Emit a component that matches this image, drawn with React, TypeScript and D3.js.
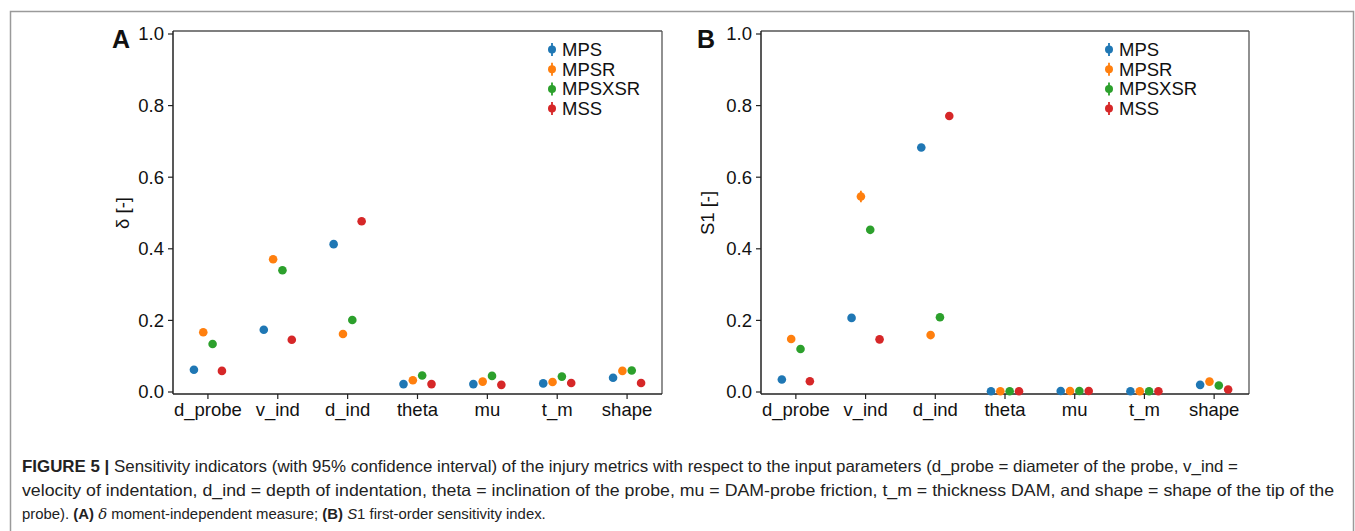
import React from "react";
import * as d3 from "d3";

const categories = ["d_probe", "v_ind", "d_ind", "theta", "mu", "t_m", "shape"];
const seriesNames = ["MPS", "MPSR", "MPSXSR", "MSS"];
const seriesColors = ["#1f77b4", "#ff7f0e", "#2ca02c", "#d62728"];

// Panel A: delta moment-independent measure
const deltaMPS = [0.062, 0.174, 0.413, 0.022, 0.022, 0.024, 0.040];
const deltaMPSR = [0.167, 0.371, 0.162, 0.033, 0.029, 0.028, 0.059];
const deltaMPSXSR = [0.134, 0.340, 0.201, 0.046, 0.045, 0.043, 0.060];
const deltaMSS = [0.059, 0.146, 0.477, 0.022, 0.020, 0.025, 0.025];
const deltaCI = [0.003, 0.004, 0.004, 0.002, 0.002, 0.002, 0.003];

// Panel B: S1 first-order sensitivity index
const s1MPS = [0.035, 0.207, 0.683, 0.002, 0.003, 0.002, 0.020];
const s1MPSR = [0.148, 0.546, 0.159, 0.002, 0.003, 0.002, 0.029];
const s1MPSXSR = [0.120, 0.453, 0.209, 0.002, 0.003, 0.002, 0.018];
const s1MSS = [0.030, 0.147, 0.771, 0.002, 0.003, 0.002, 0.007];
const s1CI_MPSR = [0.003, 0.016, 0.003, 0.002, 0.002, 0.002, 0.003];
const s1CI = [0.003, 0.003, 0.003, 0.002, 0.002, 0.002, 0.003];

const yTicks = [0, 0.2, 0.4, 0.6, 0.8, 1.0];

const FONT = "'Liberation Sans', Arial, Helvetica, sans-serif";

type PanelProps = {
  left: number;
  right: number;
  letter: string;
  letterX: number;
  yTitle: React.ReactNode;
  yTitleX: number;
  values: number[][];
  cis: number[][];
  legendX: number;
};

function Panel({ left, right, letter, letterX, yTitle, yTitleX, values, cis, legendX }: PanelProps) {
  const top = 31;
  const bottom = 394;
  const y = d3.scaleLinear().domain([0, 1]).range([392, 34]);
  const x = d3.scaleBand<string>().domain(categories).range([left, right]).padding(0);
  const dodge = d3.scalePoint<string>().domain(seriesNames).range([-14, 14]);
  const fmt = d3.format(".1f");
  const cx = (c: string) => (x(c) as number) + x.bandwidth() / 2;

  return (
    <g>
      {/* frame */}
      <line x1={left} x2={right} y1={top} y2={top} stroke="#555" strokeWidth={1.3} />
      <line x1={right} x2={right} y1={top} y2={bottom} stroke="#555" strokeWidth={1.3} />
      <line x1={left} x2={left} y1={top} y2={bottom} stroke="#222" strokeWidth={1.5} />
      <line x1={left} x2={right} y1={bottom} y2={bottom} stroke="#222" strokeWidth={1.5} />

      {/* y ticks */}
      {yTicks.map((t) => (
        <g key={t}>
          <line x1={left - 5} x2={left} y1={y(t)} y2={y(t)} stroke="#222" strokeWidth={1.2} />
          <text x={left - 9} y={y(t)} dy="0.35em" textAnchor="end" fontSize={18.5} fontFamily={FONT} fill="#111">
            {fmt(t)}
          </text>
        </g>
      ))}

      {/* x ticks */}
      {categories.map((c) => (
        <g key={c}>
          <line x1={cx(c)} x2={cx(c)} y1={bottom} y2={bottom + 5} stroke="#222" strokeWidth={1.2} />
          <text x={cx(c)} y={bottom + 22} textAnchor="middle" fontSize={18.5} fontFamily={FONT} fill="#111">
            {c}
          </text>
        </g>
      ))}

      {/* y title */}
      <text
        transform={`translate(${yTitleX},${(y(0) + y(1)) / 2}) rotate(-90)`}
        textAnchor="middle"
        dy="0.35em"
        fontSize={18.5}
        fontFamily={FONT}
        fill="#111"
      >
        {yTitle}
      </text>

      {/* panel letter */}
      <text x={letterX} y={48} fontSize={25} fontWeight="bold" fontFamily={FONT} fill="#111">
        {letter}
      </text>

      {/* points with CI */}
      {seriesNames.map((s, si) =>
        categories.map((c, ci) => {
          const v = values[si][ci];
          const e = cis[si][ci];
          const px = cx(c) + (dodge(s) as number);
          return (
            <g key={s + c}>
              <line x1={px} x2={px} y1={y(v - e)} y2={y(v + e)} stroke={seriesColors[si]} strokeWidth={1.8} />
              <circle cx={px} cy={y(v)} r={4.3} fill={seriesColors[si]} />
            </g>
          );
        })
      )}

      {/* legend */}
      {seriesNames.map((s, si) => {
        const ly = 49.5 + si * 19.7;
        return (
          <g key={s}>
            <line x1={legendX} x2={legendX} y1={ly - 6.5} y2={ly + 6.5} stroke={seriesColors[si]} strokeWidth={1.8} />
            <circle cx={legendX} cy={ly} r={4} fill={seriesColors[si]} />
            <text x={legendX + 10} y={ly} dy="0.35em" fontSize={18.5} fontFamily={FONT} fill="#111">
              {s}
            </text>
          </g>
        );
      })}
    </g>
  );
}

export default function App() {
  const deltaValues = [deltaMPS, deltaMPSR, deltaMPSXSR, deltaMSS];
  const deltaCIs = [deltaCI, deltaCI, deltaCI, deltaCI];
  const s1Values = [s1MPS, s1MPSR, s1MPSXSR, s1MSS];
  const s1CIs = [s1CI, s1CI_MPSR, s1CI, s1CI];

  return (
    <svg
      width={1355}
      height={531}
      style={{ position: "absolute", left: 0, top: 0, background: "#fff" }}
    >
      <rect x={0} y={0} width={1355} height={531} fill="#fff" />
      {/* outer figure frame */}
      <path d="M10.5,560 L10.5,11.5 L1353.5,11.5 L1353.5,560" fill="none" stroke="#9a9a9a" strokeWidth={1.5} />

      <Panel
        left={173}
        right={662}
        letter="A"
        letterX={112}
        yTitle={"δ [-]"}
        yTitleX={123}
        values={deltaValues}
        cis={deltaCIs}
        legendX={552}
      />
      <Panel
        left={761}
        right={1249}
        letter="B"
        letterX={697}
        yTitle={"S1 [-]"}
        yTitleX={708}
        values={s1Values}
        cis={s1CIs}
        legendX={1109}
      />

      {/* caption */}
      <g fontFamily={FONT} fill="#222">
        <text x={22} y={472} fontSize={16.5} textLength={1216} lengthAdjust="spacingAndGlyphs">
          <tspan fontWeight="bold">FIGURE 5 | </tspan>
          Sensitivity indicators (with 95% confidence interval) of the injury metrics with respect to the input parameters (d_probe = diameter of the probe, v_ind =
        </text>
        <text x={22} y={496} fontSize={16.5} textLength={1312} lengthAdjust="spacingAndGlyphs">
          velocity of indentation, d_ind = depth of indentation, theta = inclination of the probe, mu = DAM-probe friction, t_m = thickness DAM, and shape = shape of the tip of the
        </text>
        <text x={22} y={519} fontSize={14.9}>
          probe). <tspan fontWeight="bold">(A)</tspan> <tspan fontStyle="italic" fontFamily="'DejaVu Serif', serif">δ</tspan> moment-independent measure; <tspan fontWeight="bold">(B)</tspan> <tspan fontStyle="italic">S</tspan>1 first-order sensitivity index.
        </text>
      </g>
    </svg>
  );
}
